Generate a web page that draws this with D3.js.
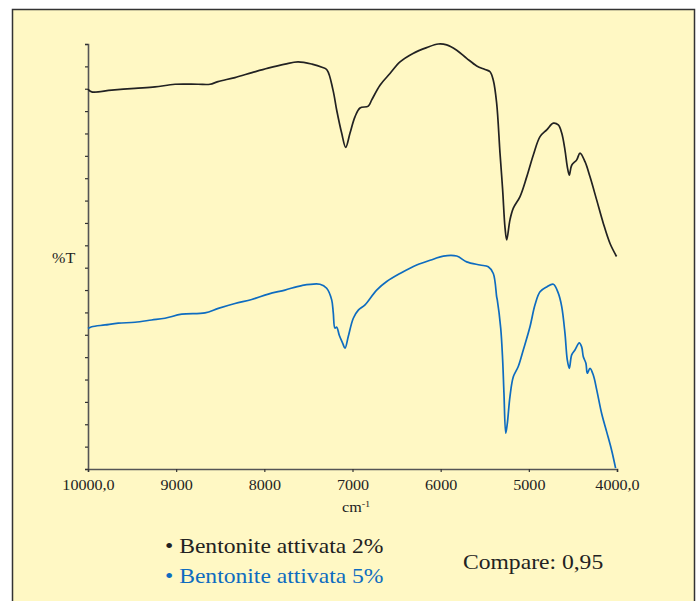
<!DOCTYPE html>
<html>
<head>
<meta charset="utf-8">
<script src="https://cdn.jsdelivr.net/npm/d3@7/dist/d3.min.js"></script>
<style>
html,body{margin:0;padding:0;background:#fff;}
svg{display:block;}
text{font-family:"Liberation Serif","Times New Roman",serif;}
</style>
</head>
<body>
<svg id="chart" width="700" height="601"></svg>
<script>
// ---- data ----
const xTicks = [10000, 9000, 8000, 7000, 6000, 5000, 4000];
const xTickLabels = ["10000,0", "9000", "8000", "7000", "6000", "5000", "4000,0"];
const yTicks = [0,5,10,15,20,25,30,35,40,45,50,55,60,65,70,75,80,85,90,95];

const seriesNames = ["Bentonite attivata 2%", "Bentonite attivata 5%"];

const wn2 = [10000,9958,9731,9467,9240,9013,8752,8616,8526,8333,8140,7958,7766,7618,7459,7346,7289,7221,7179,7123,7077,7028,6972,6915,6821,6782,6688,6575,6461,6314,6159,6027,5932,5818,5705,5591,5497,5440,5403,5365,5327,5297,5270,5251,5214,5176,5100,5024,4949,4873,4797,4722,4666,4627,4590,4564,4541,4514,4457,4420,4363,4306,4230,4155,4079,4005];
const t2 = [84.9,84.3,84.7,85.1,85.4,86.0,86.0,86.0,86.6,87.5,88.6,89.6,90.5,91.0,90.5,89.8,89.2,84.7,80.2,75.1,71.9,75.1,78.7,80.7,81.1,82.5,85.8,88.4,91.0,92.9,94.2,95.0,94.8,93.6,91.8,90.1,89.3,88.8,86.9,81.8,70.6,62.4,53.9,51.2,55.7,58.3,60.9,65.3,70.2,74.3,75.8,77.3,76.9,75.1,71.3,67.6,65.7,67.9,69.1,70.6,68.7,65.3,60.1,54.9,50.4,47.5];

const wn5 = [10000,9958,9807,9656,9467,9278,9127,8937,8673,8522,8333,8143,7955,7766,7576,7369,7293,7236,7218,7199,7179,7150,7111,7085,7048,6991,6934,6858,6726,6612,6461,6272,6084,5970,5818,5705,5554,5460,5403,5365,5358,5319,5297,5282,5262,5244,5214,5176,5120,5063,4987,4930,4873,4797,4722,4666,4627,4590,4564,4541,4514,4477,4428,4401,4382,4352,4337,4306,4269,4230,4174,4117,4061,4016];
const t5 = [31.4,31.8,32.2,32.6,32.8,33.3,33.7,34.6,34.9,35.9,37.0,37.9,39.1,40.0,41.0,41.3,40.4,37.8,34.9,31.5,31.7,29.9,28.1,27.0,29.6,33.7,35.5,36.7,40.0,41.9,43.7,45.6,46.9,47.6,47.6,46.3,45.6,45.2,43.7,38.5,37.8,31.5,24.4,16.9,8.0,10.2,16.2,20.6,22.9,26.6,31.8,36.7,39.6,40.7,41.3,39.3,36.3,30.3,24.4,22.5,25.5,26.6,28.2,27.3,25.1,23.6,21.4,22.5,21.0,17.7,12.4,8.3,4.2,0.2];

// ---- drawing ----
const svg = d3.select("#chart");
const bg = "#FFF8C4";
const black = "#222222";
const blue = "#0E6CC0";
const axisColor = "#555555";

svg.append("rect").attr("x", 12.5).attr("y", 9.5).attr("width", 682).attr("height", 600)
  .attr("fill", bg).attr("stroke", "#333").attr("stroke-width", 1.5);

const x = d3.scaleLinear().domain([10000, 4000]).range([88, 617]);
const y = d3.scaleLinear().domain([0, 95]).range([469, 44]);

const yAxis = svg.append("g").attr("transform", "translate(88,0)")
  .call(d3.axisLeft(y).tickValues(yTicks).tickSize(3).tickFormat(""));
const xAxis = svg.append("g").attr("transform", "translate(0,469)")
  .call(d3.axisBottom(x).tickValues(xTicks).tickSize(3).tickPadding(8)
    .tickFormat((d, i) => xTickLabels[i]));

[yAxis, xAxis].forEach(g => {
  g.select(".domain").attr("stroke", axisColor).attr("stroke-width", 1.6);
  g.selectAll(".tick line").attr("stroke", "#333").attr("stroke-width", 1.2);
});
xAxis.selectAll(".tick text")
  .attr("font-family", '"Liberation Serif","Times New Roman",serif')
  .attr("font-size", 14).attr("fill", "#222")
  .attr("transform", "scale(1.15,1)");

svg.append("text").attr("transform", "translate(52,263) scale(1.15,1)")
  .attr("font-size", 14).attr("fill", "#222").text("%T");

const cm = svg.append("text").attr("transform", "translate(342,512) scale(1.15,1)")
  .attr("font-size", 14).attr("fill", "#222");
cm.append("tspan").text("cm");
cm.append("tspan").attr("font-size", 9).attr("dy", -5).text("-1");

const line = d3.line().x(d => x(d[0])).y(d => y(d[1])).curve(d3.curveCatmullRom.alpha(0.5));
const s2 = wn2.map((w, i) => [w, t2[i]]);
const s5 = wn5.map((w, i) => [w, t5[i]]);

svg.append("path").datum(s2).attr("d", line).attr("fill", "none")
  .attr("stroke", black).attr("stroke-width", 1.7).attr("stroke-linejoin", "round");
svg.append("path").datum(s5).attr("d", line).attr("fill", "none")
  .attr("stroke", blue).attr("stroke-width", 1.7).attr("stroke-linejoin", "round");

// legend
const legendColors = [black, blue];
const legendY = [553, 583];
seriesNames.forEach((n, i) => {
  svg.append("text").attr("transform", `translate(165,${legendY[i]}) scale(1.18,1)`)
    .attr("font-size", 20).attr("fill", legendColors[i]).text("\u2022 " + n);
});
svg.append("text").attr("transform", "translate(463,569) scale(1.18,1)")
  .attr("font-size", 20).attr("fill", "#222").text("Compare: 0,95");
</script>
</body>
</html>
